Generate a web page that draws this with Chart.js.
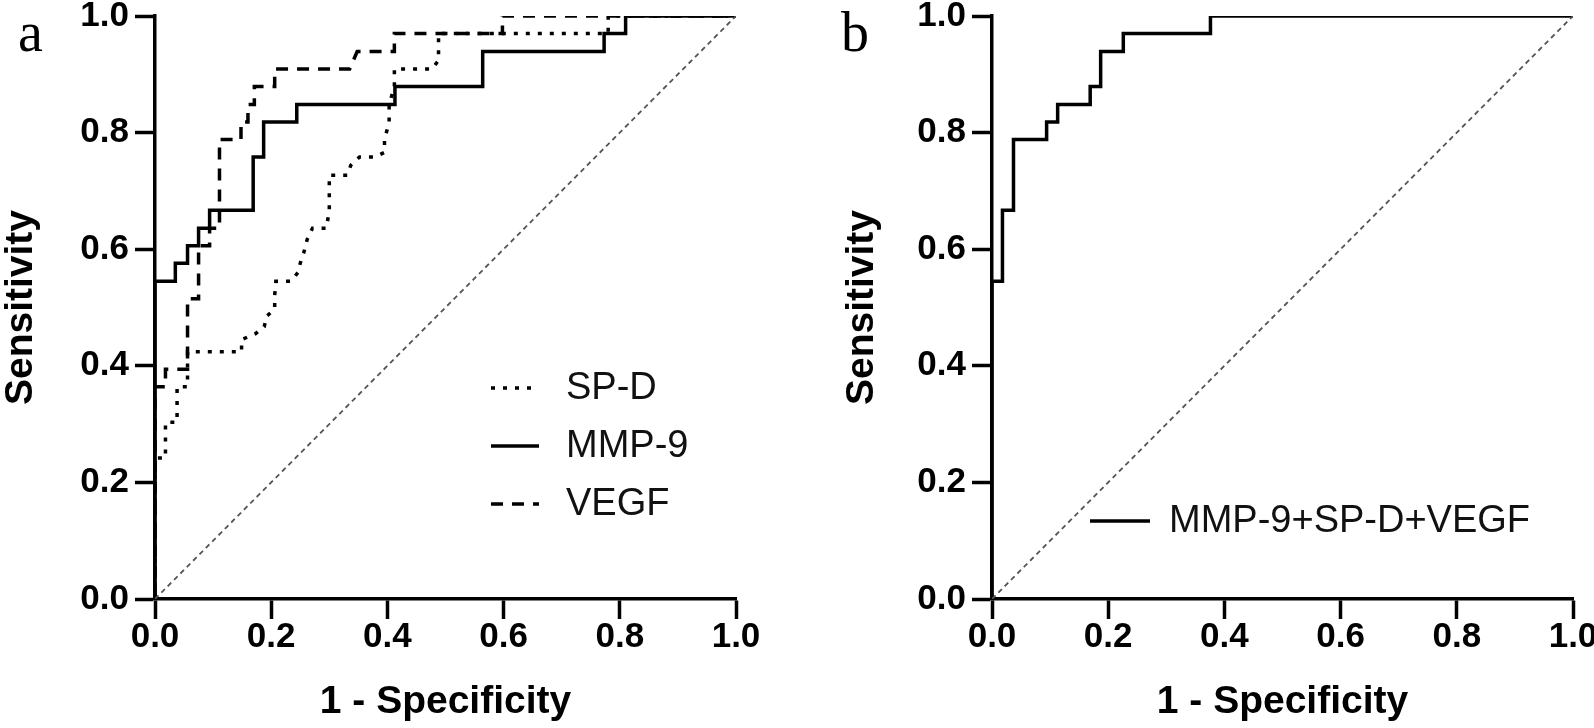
<!DOCTYPE html>
<html>
<head>
<meta charset="utf-8">
<script src="https://cdn.jsdelivr.net/npm/chart.js@4.4.1/dist/chart.umd.min.js"></script>
<style>
  html, body { margin: 0; padding: 0; background: #fff; }
  #wrap { position: relative; width: 1594px; height: 728px; overflow: hidden; }
  canvas { position: absolute; top: 0; }
  #rocA { left: 0; }
  #rocB { left: 797px; }
</style>
</head>
<body>
<div id="wrap">
  <canvas id="rocA" width="797" height="728"></canvas>
  <canvas id="rocB" width="797" height="728"></canvas>
</div>
<script>
// ROC data: x = 1 - specificity, y = sensitivity
var spdX = [0, 0, 0.018, 0.018, 0.038, 0.038, 0.056, 0.056, 0.149, 0.149, 0.173, 0.188, 0.192, 0.206, 0.206, 0.208, 0.234, 0.246, 0.250, 0.256, 0.262, 0.271, 0.295, 0.300, 0.300, 0.331, 0.337, 0.352, 0.378, 0.395, 0.395, 0.403, 0.403, 0.412, 0.412, 0.477, 0.488, 0.488, 0.780, 0.780, 1.0];
var spdY = [0, 0.242, 0.242, 0.303, 0.303, 0.364, 0.364, 0.424, 0.424, 0.445, 0.455, 0.467, 0.485, 0.497, 0.521, 0.545, 0.545, 0.560, 0.576, 0.594, 0.617, 0.636, 0.636, 0.667, 0.727, 0.727, 0.744, 0.758, 0.758, 0.766, 0.788, 0.818, 0.848, 0.879, 0.909, 0.909, 0.924, 0.970, 0.970, 1.0, 1.0];

var mmpX = [0, 0, 0.035, 0.035, 0.056, 0.056, 0.075, 0.075, 0.094, 0.094, 0.169, 0.169, 0.187, 0.187, 0.244, 0.244, 0.413, 0.413, 0.564, 0.564, 0.773, 0.773, 0.810, 0.810, 1.0];
var mmpY = [0, 0.545, 0.545, 0.576, 0.576, 0.606, 0.606, 0.636, 0.636, 0.667, 0.667, 0.758, 0.758, 0.818, 0.818, 0.848, 0.848, 0.879, 0.879, 0.939, 0.939, 0.970, 0.970, 1.0, 1.0];

var vegfX = [0, 0, 0.018, 0.018, 0.056, 0.056, 0.075, 0.075, 0.094, 0.094, 0.111, 0.111, 0.148, 0.148, 0.160, 0.160, 0.171, 0.171, 0.206, 0.206, 0.335, 0.348, 0.412, 0.412, 0.598, 0.598, 1.0];
var vegfY = [0, 0.364, 0.364, 0.394, 0.394, 0.515, 0.515, 0.606, 0.606, 0.636, 0.636, 0.788, 0.788, 0.818, 0.818, 0.848, 0.848, 0.879, 0.879, 0.909, 0.909, 0.939, 0.939, 0.970, 0.970, 1.0, 1.0];

var combX = [0, 0, 0.018, 0.018, 0.037, 0.037, 0.094, 0.094, 0.113, 0.113, 0.169, 0.169, 0.187, 0.187, 0.226, 0.226, 0.376, 0.376, 1.0];
var combY = [0, 0.545, 0.545, 0.667, 0.667, 0.788, 0.788, 0.818, 0.818, 0.848, 0.848, 0.879, 0.879, 0.939, 0.939, 0.970, 0.970, 1.0, 1.0];

var refX = [0, 1];
var refY = [0, 1];

var xTitle = "1 - Specificity";
var yTitle = "Sensitivity";

var SANS = '"Liberation Sans", Arial, sans-serif';
Chart.defaults.color = '#000';
Chart.defaults.font.family = SANS;

function pts(xs, ys) {
  var out = [];
  for (var i = 0; i < xs.length; i++) out.push({x: xs[i], y: ys[i]});
  return out;
}

function line(label, xs, ys, dash) {
  return {
    label: label,
    data: pts(xs, ys),
    borderColor: '#000',
    borderWidth: 3.5,
    borderDash: dash,
    borderCapStyle: 'butt',
    borderJoinStyle: 'miter',
    pointRadius: 0,
    tension: 0,
    fill: false
  };
}

function refLine() {
  return {
    label: '',
    data: pts(refX, refY),
    borderColor: '#555',
    borderWidth: 1.8,
    borderDash: [5, 4],
    pointRadius: 0,
    fill: false
  };
}

// legend inside the plot plus the panel letter
var insideLegend = {
  id: 'insideLegend',
  afterDraw: function (chart, args, o) {
    var ctx = chart.ctx;
    ctx.save();
    o.items.forEach(function (idx, i) {
      var ds = chart.data.datasets[idx];
      var y = o.y + i * o.gap;
      ctx.beginPath();
      ctx.setLineDash(ds.borderDash || []);
      ctx.lineWidth = ds.borderWidth;
      ctx.strokeStyle = ds.borderColor;
      ctx.moveTo(o.x1, y);
      ctx.lineTo(o.x2, y);
      ctx.stroke();
      ctx.setLineDash([]);
      ctx.fillStyle = '#111';
      ctx.font = '38px ' + SANS;
      ctx.textBaseline = 'middle';
      ctx.textAlign = 'left';
      ctx.fillText(ds.label, o.tx, y + 1);
    });
    ctx.fillStyle = '#000';
    ctx.font = '56px "Liberation Serif", "Times New Roman", serif';
    ctx.textBaseline = 'alphabetic';
    ctx.fillText(o.letter, o.lx, o.ly);
    ctx.restore();
  }
};

function makeChart(id, datasets, leftPad, yWidth, legendOpts) {
  return new Chart(document.getElementById(id), {
    type: 'line',
    data: {datasets: datasets},
    plugins: [insideLegend],
    options: {
      responsive: false,
      animation: false,
      layout: {padding: {left: leftPad, right: 797 - leftPad - yWidth - 581, top: 16, bottom: 0}},
      plugins: {
        legend: {display: false},
        tooltip: {enabled: false},
        insideLegend: legendOpts
      },
      scales: {
        x: {
          type: 'linear', min: 0, max: 1,
          ticks: {stepSize: 0.2, padding: 1, font: {size: 35, weight: 'bold', lineHeight: 1}, callback: function (v) { return v.toFixed(1); }},
          grid: {drawOnChartArea: false, drawTicks: true, tickLength: 20, tickWidth: 3.5, tickColor: '#000'},
          border: {display: true, width: 3.5, color: '#000'},
          title: {display: true, text: xTitle, font: {size: 39, weight: 'bold', lineHeight: 1.1}, padding: {top: 0, bottom: 4}},
          afterFit: function (s) { s.height = 129; s.paddingLeft = 0; s.paddingRight = 0; }
        },
        y: {
          type: 'linear', min: 0, max: 1,
          ticks: {stepSize: 0.2, padding: 6, font: {size: 35, weight: 'bold', lineHeight: 1}, callback: function (v) { return v.toFixed(1); }},
          grid: {drawOnChartArea: false, drawTicks: true, tickLength: 20, tickWidth: 3.5, tickColor: '#000'},
          border: {display: true, width: 3.5, color: '#000'},
          title: {display: true, text: yTitle, font: {size: 39, weight: 'bold', lineHeight: 1.1}, padding: {top: 0, bottom: 0}},
          afterFit: function (s) { s.width = yWidth; s.paddingTop = 0; s.paddingBottom = 0; }
        }
      }
    }
  });
}

makeChart('rocA', [
  refLine(),
  line('SP-D', spdX, spdY, [4, 8]),
  line('MMP-9', mmpX, mmpY, []),
  line('VEGF', vegfX, vegfY, [12, 9])
], 0, 155, {items: [1, 2, 3], x1: 491, x2: 539, tx: 566, y: 388, gap: 58, letter: 'a', lx: 18, ly: 51});

makeChart('rocB', [
  refLine(),
  line('MMP-9+SP-D+VEGF', combX, combY, [])
], 44, 151, {items: [1], x1: 293, x2: 353, tx: 372, y: 521, gap: 0, letter: 'b', lx: 44, ly: 51});
</script>
</body>
</html>
